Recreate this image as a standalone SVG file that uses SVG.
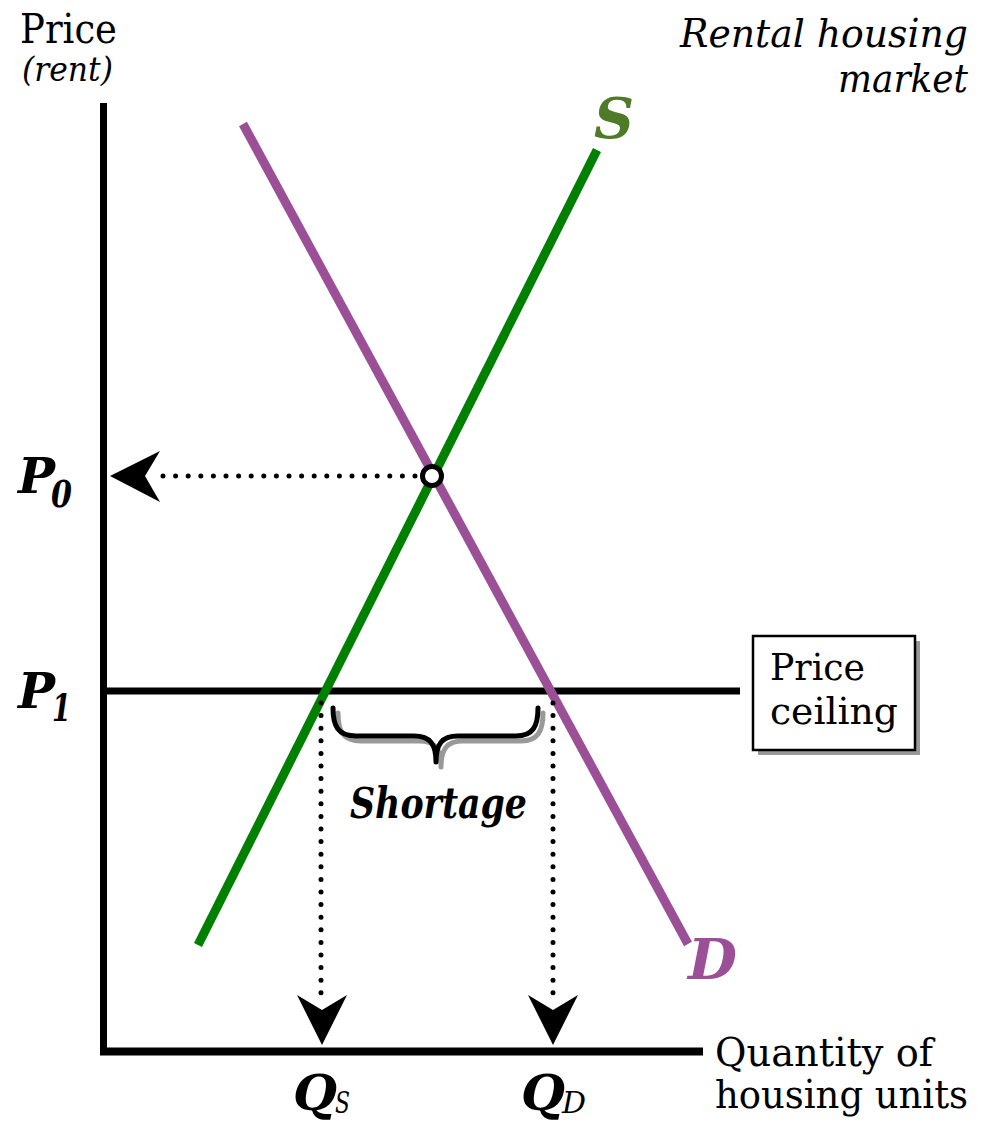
<svg xmlns="http://www.w3.org/2000/svg" width="990" height="1122" viewBox="0 0 990 1122" font-family="DejaVu Serif, serif">
<style>
text{font-family:'DejaVu Serif',serif}
.i{font-style:italic}
.b{font-weight:bold}
.axis{stroke:#000;stroke-width:7;fill:none}
.dot{stroke:#000;stroke-width:5;stroke-linecap:round;stroke-dasharray:0 12.6;fill:none}
.head{fill:#000}
</style>
<defs>
<path id="brace" d="M333,708 C333,726 338,736 356,736 L414,736 C430,736 436,744 436,762 M436,762 C436,744 442,736 458,736 L516,736 C533,736 538,726 538,708" fill="none" stroke-width="5" stroke-linecap="round"/>
</defs>
<rect width="990" height="1122" fill="#fff"/>
<g id="axes">
<line class="axis" x1="103.5" y1="103" x2="103.5" y2="1055"/>
<line class="axis" x1="100" y1="1051.5" x2="703" y2="1051.5" style="stroke-width:8"/>
<text x="20" y="43" font-size="41" textLength="97" lengthAdjust="spacingAndGlyphs">Price</text>
<text class="i" x="22" y="81" font-size="33" textLength="91" lengthAdjust="spacingAndGlyphs">(rent)</text>
<text x="715" y="1066" font-size="40" textLength="218" lengthAdjust="spacingAndGlyphs">Quantity of</text>
<text x="715" y="1108" font-size="40" textLength="253" lengthAdjust="spacingAndGlyphs">housing units</text>
</g>
<g id="title">
<text class="i" x="968" y="47" font-size="40" text-anchor="end" textLength="288" lengthAdjust="spacingAndGlyphs">Rental housing</text>
<text class="i" x="968" y="92" font-size="40" text-anchor="end" textLength="130" lengthAdjust="spacingAndGlyphs">market</text>
</g>
<g id="ceiling-line">
<line x1="103" y1="691" x2="740" y2="691" stroke="#000" stroke-width="7"/>
</g>
<g id="supply">
<line x1="198" y1="945" x2="597" y2="150" stroke="#008000" stroke-width="9"/>
<text class="i b" x="594" y="138" font-size="56" style="fill:#4F7A28" textLength="40" lengthAdjust="spacingAndGlyphs">S</text>
</g>
<g id="demand">
<line x1="243" y1="124" x2="688" y2="944" stroke="#9B4F96" stroke-width="9"/>
<text class="i b" x="688" y="979" font-size="56" style="fill:#9B4F96" textLength="49" lengthAdjust="spacingAndGlyphs">D</text>
</g>
<g id="connectors">
<line class="dot" x1="415" y1="476" x2="152" y2="476"/>
<polygon class="head" points="110,476 160,451 145,476 160,502"/>
<line class="dot" x1="321" y1="703" x2="321" y2="1000"/>
<polygon class="head" points="322,1045 297,995 322,1010 347,995"/>
<line class="dot" x1="553" y1="703" x2="553" y2="1000"/>
<polygon class="head" points="553,1045 528,995 553,1010 578,995"/>
</g>
<g id="equilibrium">
<circle cx="432" cy="476" r="9.5" fill="#fff" stroke="#000" stroke-width="5"/>
</g>
<g id="p0">
<text class="i b" x="18" y="493" font-size="48" textLength="37" lengthAdjust="spacingAndGlyphs">P</text>
<text class="i b" x="51" y="507" font-size="38" textLength="21" lengthAdjust="spacingAndGlyphs">0</text>
</g>
<g id="p1">
<text class="i b" x="18" y="708" font-size="48" textLength="37" lengthAdjust="spacingAndGlyphs">P</text>
<text class="i b" x="52" y="721" font-size="38" textLength="19" lengthAdjust="spacingAndGlyphs">1</text>
</g>
<g id="qs">
<text class="i b" x="293" y="1110" font-size="48" textLength="44" lengthAdjust="spacingAndGlyphs">Q</text>
<text class="i" x="335" y="1113" font-size="30" textLength="15" lengthAdjust="spacingAndGlyphs">S</text>
</g>
<g id="qd">
<text class="i b" x="521" y="1110" font-size="48" textLength="44" lengthAdjust="spacingAndGlyphs">Q</text>
<text class="i" x="562" y="1113" font-size="30" textLength="24" lengthAdjust="spacingAndGlyphs">D</text>
</g>
<g id="shortage">
<use href="#brace" stroke="#999" transform="translate(5,5)"/>
<use href="#brace" stroke="#000"/>
<text class="i b" x="350" y="818" font-size="42" textLength="177" lengthAdjust="spacingAndGlyphs">Shortage</text>
</g>
<g id="price-ceiling-box">
<rect x="758" y="641" width="162" height="114" fill="#999"/>
<rect x="753" y="636" width="162" height="114" fill="#fff" stroke="#000" stroke-width="2.5"/>
<text x="770" y="680" font-size="38" textLength="95" lengthAdjust="spacingAndGlyphs">Price</text>
<text x="770" y="724" font-size="38" textLength="128" lengthAdjust="spacingAndGlyphs">ceiling</text>
</g>
</svg>
